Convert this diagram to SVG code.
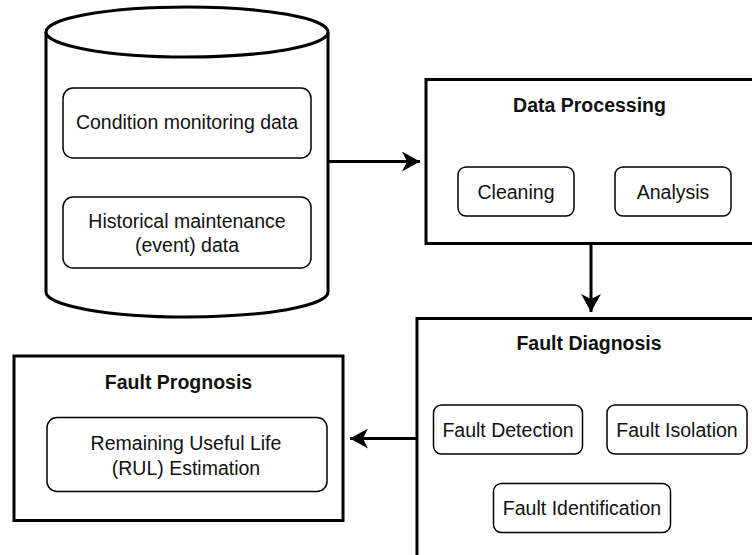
<svg xmlns="http://www.w3.org/2000/svg" width="752" height="555" viewBox="0 0 752 555">
<style>
.main{fill:#fff;stroke:#000;stroke-width:3}
.inner{fill:#fff;stroke:#000;stroke-width:1.5}
.t{font-family:"Liberation Sans",Arial,sans-serif;font-size:19.5px;fill:#111;text-anchor:middle}
.b{font-weight:bold}
.conn{fill:none;stroke:#000;stroke-width:3}
</style>
<defs>
<marker id="arr" viewBox="0 0 18 20" markerWidth="18" markerHeight="20" refX="18" refY="10" orient="auto" markerUnits="userSpaceOnUse">
<path d="M0,0 L18,10 L0,20 L5,10 z" fill="#000"/>
</marker>
</defs>
<rect width="752" height="555" fill="#fff"/>
<g id="data-store">
<path class="main" d="M46,32 L46,292 A141,25 0 0 0 328,292 L328,32"/>
<ellipse class="main" cx="187" cy="32" rx="141" ry="25"/>
<rect class="inner" x="63" y="88" width="248" height="70" rx="10"/>
<text class="t" x="187" y="129">Condition monitoring data</text>
<rect class="inner" x="63" y="197" width="248" height="71" rx="10"/>
<text class="t" x="187" y="227.5">Historical maintenance</text>
<text class="t" x="187" y="251.5">(event) data</text>
</g>
<g id="data-processing">
<rect class="main" x="426" y="79.5" width="340" height="164"/>
<text class="t b" x="589.5" y="111.5">Data Processing</text>
<rect class="inner" x="458" y="167" width="116" height="49" rx="8"/>
<text class="t" x="516" y="198.5">Cleaning</text>
<rect class="inner" x="615" y="167" width="116" height="49" rx="8"/>
<text class="t" x="673" y="198.5">Analysis</text>
</g>
<g id="fault-diagnosis">
<rect class="main" x="417" y="318.5" width="350" height="260"/>
<text class="t b" x="589" y="349.5">Fault Diagnosis</text>
<rect class="inner" x="433.5" y="405" width="149" height="49" rx="8"/>
<text class="t" x="508" y="437">Fault Detection</text>
<rect class="inner" x="607" y="405" width="140" height="49" rx="8"/>
<text class="t" x="677" y="437">Fault Isolation</text>
<rect class="inner" x="493.5" y="483.5" width="177" height="49" rx="8"/>
<text class="t" x="582" y="514.5">Fault Identification</text>
</g>
<g id="fault-prognosis">
<rect class="main" x="14" y="356" width="329" height="164.5"/>
<text class="t b" x="178.5" y="388.5">Fault Prognosis</text>
<rect class="inner" x="47" y="417.5" width="280" height="74" rx="10"/>
<text class="t" x="186" y="450">Remaining Useful Life</text>
<text class="t" x="186" y="475">(RUL) Estimation</text>
</g>
<g id="connectors">
<path class="conn" d="M328,161.5 L420,161.5" marker-end="url(#arr)"/>
<path class="conn" d="M591,243.5 L591,312" marker-end="url(#arr)"/>
<path class="conn" d="M417,438.5 L350,438.5" marker-end="url(#arr)"/>
</g>
</svg>
